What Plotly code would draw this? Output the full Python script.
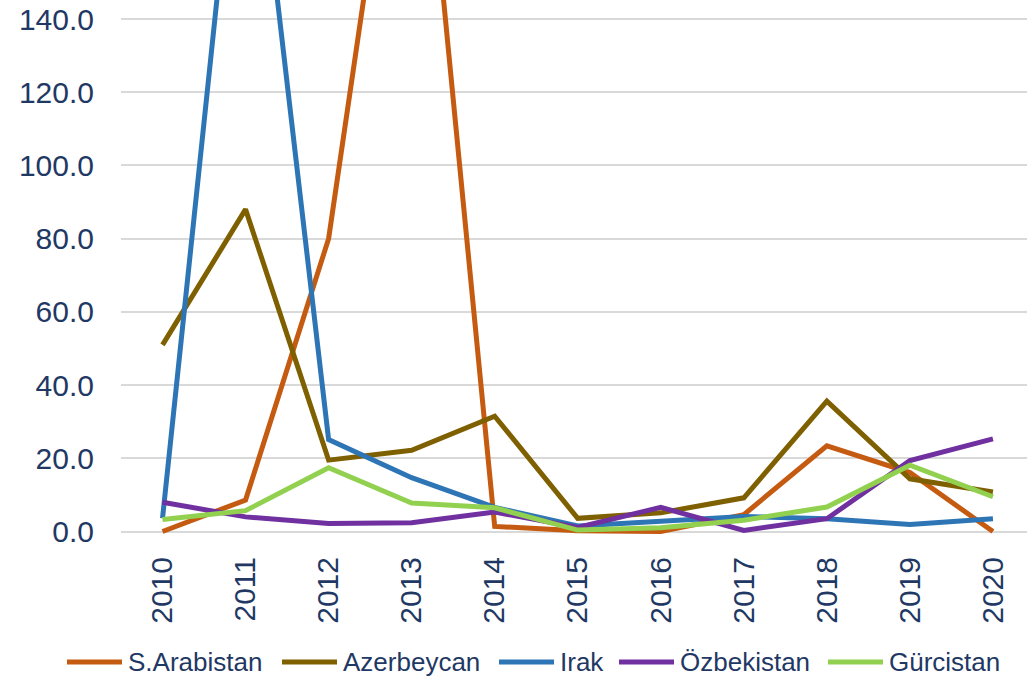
import plotly.graph_objects as go

# Yıllar (kategori ekseni)
years = ["2010", "2011", "2012", "2013", "2014", "2015",
         "2016", "2017", "2018", "2019", "2020"]

# Seri değerleri
s_arabistan = [0.0, 8.6, 80.0, 235.0, 1.4, 0.2, 0.0, 4.6, 23.4, 16.1, 0.0]
azerbeycan = [51.0, 88.0, 19.5, 22.2, 31.5, 3.6, 5.1, 9.2, 35.6, 14.4, 10.8]
irak = [3.6, 220.0, 25.1, 14.7, 6.6, 1.5, 2.8, 4.1, 3.5, 1.9, 3.5]
ozbekistan = [8.0, 4.0, 2.2, 2.4, 5.3, 1.1, 6.6, 0.3, 3.5, 19.4, 25.3]
gurcistan = [3.3, 5.7, 17.4, 7.8, 6.5, 0.4, 1.0, 3.1, 6.7, 18.1, 9.5]

series_names = ["S.Arabistan", "Azerbeycan", "Irak", "Özbekistan", "Gürcistan"]
series_values = [s_arabistan, azerbeycan, irak, ozbekistan, gurcistan]
series_colors = ["#C55A11", "#7F6000", "#2E75B6", "#7030A0", "#92D050"]

text_color = "#1F3864"
grid_color = "#D9D9D9"

W, H = 1027, 678
ML, MB = 121, 141
plot_w, plot_h = W - ML, H - MB

# lejant öğelerinin başlangıç pikselleri (Excel'deki gibi uzun çizgi örnekleri)
legend_x = [67, 282, 499, 619, 828]
legend_y = 662
sample_len = 55


def px_to_paper(px, py):
    return (px - ML) / plot_w, (plot_h - py) / plot_h


fig = go.Figure()
for name, vals, col in zip(series_names, series_values, series_colors):
    fig.add_trace(go.Scatter(x=years, y=vals, mode="lines", name=name,
                             line=dict(color=col, width=5), showlegend=False))

# Özel lejant
for name, col, lx in zip(series_names, series_colors, legend_x):
    x0, y0 = px_to_paper(lx, legend_y)
    x1, _ = px_to_paper(lx + sample_len, legend_y)
    xt, _ = px_to_paper(lx + sample_len + 4, legend_y)
    fig.add_shape(type="line", xref="paper", yref="paper",
                  x0=x0, x1=x1, y0=y0, y1=y0,
                  line=dict(color=col, width=5))
    fig.add_annotation(text=name, xref="paper", yref="paper", x=xt, y=y0,
                       xanchor="left", yanchor="middle", showarrow=False,
                       font=dict(size=26, color=text_color))

fig.update_layout(
    width=W, height=H,
    margin=dict(l=ML, r=0, t=0, b=MB),
    plot_bgcolor="white", paper_bgcolor="white",
    font=dict(family="Liberation Sans, Arial, sans-serif", color=text_color, size=30),
    showlegend=False,
)

fig.update_xaxes(
    type="category", range=[-0.5, 10.41], automargin=False,
    tickangle=-90, tickfont=dict(size=30, color=text_color),
    showgrid=False, showline=False, ticks="",
    ticklabelstandoff=13,
)

fig.update_yaxes(
    range=[-1.5, 145.2], dtick=20, tick0=0, tickformat=".1f", automargin=False,
    tickfont=dict(size=30, color=text_color),
    showgrid=True, gridcolor=grid_color, gridwidth=2,
    zeroline=True, zerolinecolor=grid_color, zerolinewidth=2,
    showline=False, ticks="", ticklabelstandoff=26,
)

# sayfa kenar boşluğunu kaldır, araç çubuğunu gizle
fig.write_html("out.html", config={"displayModeBar": False},
               post_script="document.body.style.margin='0';")
